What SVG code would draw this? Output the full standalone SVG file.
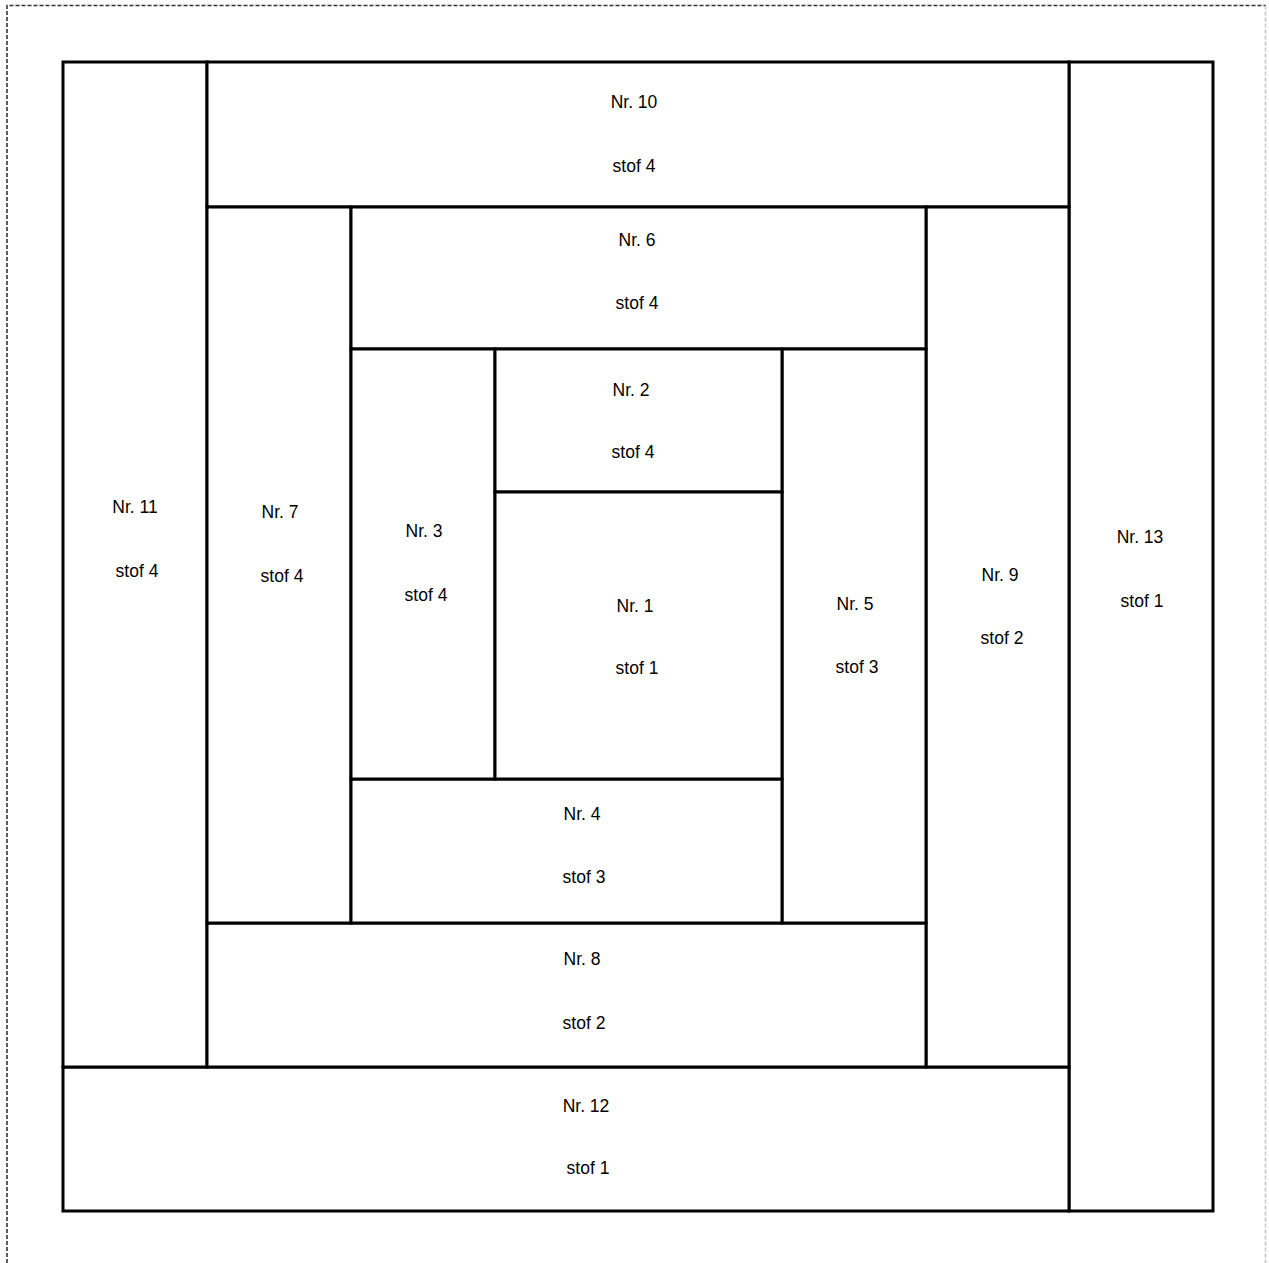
<svg xmlns="http://www.w3.org/2000/svg" width="1269" height="1263" viewBox="0 0 1269 1263">
<style>
.frame{fill:none;stroke-width:1.6;stroke-dasharray:4 2}
.piece{fill:#fff;stroke:#000;stroke-width:3}
.lbl{font-family:"Liberation Sans",Arial,sans-serif;font-size:17.5px;fill:#000;text-anchor:middle}
</style>
<rect width="1269" height="1263" fill="#fff"/>
<g id="border">
<path class="frame" stroke="#333" d="M7,1263 V5.5 H1266"/>
<path class="frame" stroke="#c8c8c8" d="M1265.5,5.5 V1263"/>
</g>
<g id="connectors"></g>
<g id="n13"><rect class="piece" x="1069" y="62" width="144" height="1149"/><text class="lbl" x="1140" y="543">Nr. 13</text><text class="lbl" x="1142" y="607">stof 1</text></g>
<g id="n12"><rect class="piece" x="63" y="1067" width="1006" height="144"/><text class="lbl" x="586" y="1112">Nr. 12</text><text class="lbl" x="588" y="1174">stof 1</text></g>
<g id="n11"><rect class="piece" x="63" y="62" width="144" height="1005"/><text class="lbl" x="135" y="513">Nr. 11</text><text class="lbl" x="137" y="577">stof 4</text></g>
<g id="n10"><rect class="piece" x="207" y="62" width="862" height="145"/><text class="lbl" x="634" y="108">Nr. 10</text><text class="lbl" x="634" y="172">stof 4</text></g>
<g id="n9"><rect class="piece" x="926" y="207" width="143" height="860"/><text class="lbl" x="1000" y="581">Nr. 9</text><text class="lbl" x="1002" y="644">stof 2</text></g>
<g id="n8"><rect class="piece" x="207" y="923" width="719" height="144"/><text class="lbl" x="582" y="965">Nr. 8</text><text class="lbl" x="584" y="1029">stof 2</text></g>
<g id="n7"><rect class="piece" x="207" y="207" width="144" height="716"/><text class="lbl" x="280" y="518">Nr. 7</text><text class="lbl" x="282" y="582">stof 4</text></g>
<g id="n6"><rect class="piece" x="351" y="207" width="575" height="142"/><text class="lbl" x="637" y="246">Nr. 6</text><text class="lbl" x="637" y="309">stof 4</text></g>
<g id="n5"><rect class="piece" x="782" y="349" width="144" height="574"/><text class="lbl" x="855" y="610">Nr. 5</text><text class="lbl" x="857" y="673">stof 3</text></g>
<g id="n4"><rect class="piece" x="351" y="779" width="431" height="144"/><text class="lbl" x="582" y="820">Nr. 4</text><text class="lbl" x="584" y="883">stof 3</text></g>
<g id="n3"><rect class="piece" x="351" y="349" width="144" height="430"/><text class="lbl" x="424" y="537">Nr. 3</text><text class="lbl" x="426" y="601">stof 4</text></g>
<g id="n2"><rect class="piece" x="495" y="349" width="287" height="143"/><text class="lbl" x="631" y="396">Nr. 2</text><text class="lbl" x="633" y="458">stof 4</text></g>
<g id="n1"><rect class="piece" x="495" y="492" width="287" height="287"/><text class="lbl" x="635" y="612">Nr. 1</text><text class="lbl" x="637" y="674">stof 1</text></g>
</svg>
